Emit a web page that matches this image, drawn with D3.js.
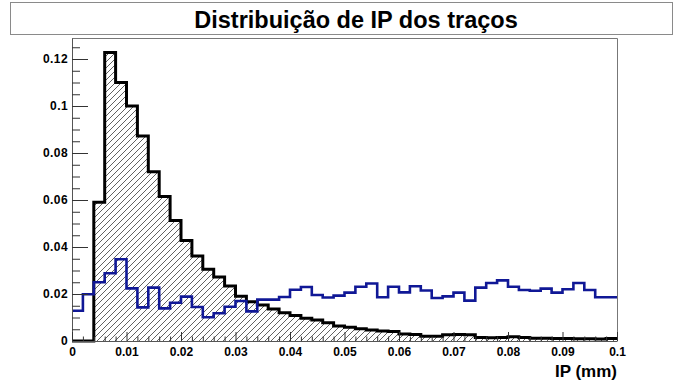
<!DOCTYPE html>
<html>
<head>
<meta charset="utf-8">
<script src="https://cdn.jsdelivr.net/npm/d3@7/dist/d3.min.js"></script>
<style>
  html, body { margin: 0; padding: 0; background: #fff; }
  svg { display: block; }
  text { font-family: "Liberation Sans", Arial, Helvetica, sans-serif; font-weight: bold; fill: #000; }
</style>
</head>
<body>
<svg id="chart" width="674" height="383"></svg>
<script>
// Histogram: impact-parameter distribution, 50 bins of 0.002 mm between 0 and 0.1 mm
const binWidth = 0.002;
const xRange = [0, 0.1];

// Hatched histogram (black outline)
const fracTracosA = [
  0, 0, 0.059, 0.1228, 0.110, 0.100, 0.0872, 0.072, 0.0615, 0.0513,
  0.0428, 0.0362, 0.0305, 0.0272, 0.0234, 0.0190, 0.0167, 0.0153, 0.0136, 0.0120,
  0.0108, 0.0097, 0.0089, 0.0078, 0.0064, 0.0058, 0.0052, 0.0047, 0.0043, 0.0040,
  0.0030, 0.0028, 0.0020, 0.0020, 0.0027, 0.0028, 0.0027, 0.0015, 0.0014, 0.0015,
  0.0018, 0.0015, 0.0012, 0.0012, 0.0011, 0.0011, 0.0010, 0.0010, 0.0009, 0.0011
];

// Blue outline histogram
const fracTracosB = [
  0.0129, 0.0199, 0.0250, 0.0288, 0.0348, 0.0224, 0.0143, 0.0227, 0.0139, 0.0163,
  0.0189, 0.0145, 0.0101, 0.0118, 0.0146, 0.0170, 0.0126, 0.0176, 0.0176, 0.0187,
  0.0218, 0.0230, 0.0196, 0.0185, 0.0193, 0.0206, 0.0231, 0.0245, 0.0186, 0.0231,
  0.0207, 0.0233, 0.0215, 0.0183, 0.0190, 0.0206, 0.0172, 0.0227, 0.0247, 0.0258,
  0.0231, 0.0217, 0.0214, 0.0223, 0.0206, 0.0220, 0.0247, 0.0217, 0.0186, 0.0186
];

const xTickValues = [0, 0.01, 0.02, 0.03, 0.04, 0.05, 0.06, 0.07, 0.08, 0.09, 0.1];
const xTickLabels = ["0", "0.01", "0.02", "0.03", "0.04", "0.05", "0.06", "0.07", "0.08", "0.09", "0.1"];
const yTickValues = [0, 0.02, 0.04, 0.06, 0.08, 0.1, 0.12];
const yTickLabels = ["0", "0.02", "0.04", "0.06", "0.08", "0.1", "0.12"];

const titleText = "Distribuição de IP dos traços";
const xTitleText = "IP (mm)";

// ---- layout ----
const frame = { left: 72, right: 617, top: 38, bottom: 341 };
const yMax = 1.05 * d3.max(fracTracosA);

const svg = d3.select("#chart");

const x = d3.scaleLinear().domain(xRange).range([frame.left, frame.right]);
const y = d3.scaleLinear().domain([0, yMax]).range([frame.bottom, frame.top]);

// hatch pattern "/" for the filled histogram
const defs = svg.append("defs");
const pat = defs.append("pattern")
  .attr("id", "hatch")
  .attr("patternUnits", "userSpaceOnUse")
  .attr("width", 6).attr("height", 6);
pat.append("path")
  .attr("d", "M-1,7 L7,-1 M-4,4 L4,-4 M2,10 L10,2")
  .attr("stroke", "#3a3a3a")
  .attr("stroke-width", 0.8);

// title box
svg.append("rect")
  .attr("x", 10.5).attr("y", 2.5)
  .attr("width", 662).attr("height", 32)
  .attr("fill", "#fff")
  .attr("stroke", "#8a8a8a")
  .attr("stroke-width", 1);
svg.append("text")
  .attr("x", 356).attr("y", 27.5)
  .attr("text-anchor", "middle")
  .attr("font-size", 23.5)
  .text(titleText);

// frame (top and right edges)
svg.append("path")
  .attr("d", `M${frame.left},${frame.top + 0.5}H${frame.right + 0.5}V${frame.bottom}`)
  .attr("fill", "none")
  .attr("stroke", "#777")
  .attr("stroke-width", 1);

// step-shaped histogram points (last bin repeated at the right edge)
function histPoints(vals) {
  const pts = vals.map((v, i) => [i * binWidth, v]);
  pts.push([vals.length * binWidth, vals[vals.length - 1]]);
  return pts;
}

const plot = svg.append("g");

const area = d3.area()
  .x(d => x(d[0]))
  .y0(y(0))
  .y1(d => y(d[1]))
  .curve(d3.curveStepAfter);

const line = d3.line()
  .x(d => x(d[0]))
  .y(d => y(d[1]))
  .curve(d3.curveStepAfter);

plot.append("path")
  .datum(histPoints(fracTracosA))
  .attr("d", area)
  .attr("fill", "url(#hatch)");

plot.append("path")
  .datum(histPoints(fracTracosA))
  .attr("d", line)
  .attr("fill", "none")
  .attr("stroke", "#000")
  .attr("stroke-width", 3)
  .attr("stroke-linejoin", "miter");

plot.append("path")
  .datum(histPoints(fracTracosB))
  .attr("d", line)
  .attr("fill", "none")
  .attr("stroke", "#101896")
  .attr("stroke-width", 2.6)
  .attr("stroke-linejoin", "miter");

// ---- axes ----
const yMinor = d3.range(0, 26).map(i => i * 0.005).filter(v => v <= yMax && !yTickValues.some(t => Math.abs(t - v) < 1e-9));
const xMinor = d3.range(0, 51).map(i => i * 0.002).filter(v => !xTickValues.some(t => Math.abs(t - v) < 1e-9));

const yAxis = svg.append("g")
  .attr("transform", `translate(${frame.left},0)`)
  .call(d3.axisLeft(y)
    .tickValues(yTickValues)
    .tickFormat((d, i) => yTickLabels[i])
    .tickSize(-16)
    .tickSizeOuter(0)
    .tickPadding(4));
yAxis.append("g").call(d3.axisLeft(y)
  .tickValues(yMinor)
  .tickFormat("")
  .tickSize(-8)
  .tickSizeOuter(0))
  .select(".domain").remove();

const xAxis = svg.append("g")
  .attr("transform", `translate(0,${frame.bottom})`)
  .call(d3.axisBottom(x)
    .tickValues(xTickValues)
    .tickFormat((d, i) => xTickLabels[i])
    .tickSize(-9)
    .tickSizeOuter(0)
    .tickPadding(6));
xAxis.append("g").call(d3.axisBottom(x)
  .tickValues(xMinor)
  .tickFormat("")
  .tickSize(-4.5)
  .tickSizeOuter(0))
  .select(".domain").remove();

svg.selectAll(".domain").attr("stroke", "#555");
svg.selectAll(".tick line").attr("stroke", "#333");
svg.selectAll(".tick text")
  .attr("font-size", 12)
  .attr("font-family", '"Liberation Sans", Arial, sans-serif')
  .attr("font-weight", "bold")
  .attr("fill", "#000");
yAxis.selectAll(".tick text").attr("letter-spacing", 0.4);

// x-axis title
svg.append("text")
  .attr("x", frame.right)
  .attr("y", 377)
  .attr("text-anchor", "end")
  .attr("font-size", 17)
  .text(xTitleText);
</script>
</body>
</html>
